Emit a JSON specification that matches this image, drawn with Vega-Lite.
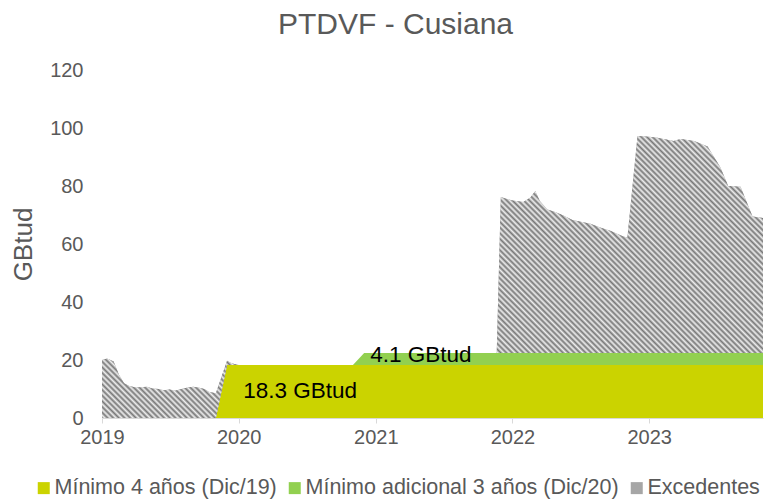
{
  "$schema": "https://vega.github.io/schema/vega-lite/v6.json",
  "width": 661,
  "height": 348,
  "autosize": {"type": "none"},
  "padding": {"left": 102, "top": 70, "right": 2, "bottom": 81},
  "background": "white",
  "title": {"text": "PTDVF - Cusiana", "fontSize": 30, "font": "Liberation Sans", "fontWeight": "normal", "color": "#595959", "anchor": "middle", "dx": -37, "offset": 20},
  "config": {"view": {"stroke": null}, "font": "Liberation Sans"},
  "data": {"values": [
    {"date": "2019-01-01", "a": 0, "b": 0, "c": 20},
    {"date": "2019-01-15", "a": 0, "b": 0, "c": 20.5},
    {"date": "2019-02-01", "a": 0, "b": 0, "c": 19.5},
    {"date": "2019-02-15", "a": 0, "b": 0, "c": 15},
    {"date": "2019-03-01", "a": 0, "b": 0, "c": 12},
    {"date": "2019-03-15", "a": 0, "b": 0, "c": 11},
    {"date": "2019-04-01", "a": 0, "b": 0, "c": 10.5},
    {"date": "2019-04-15", "a": 0, "b": 0, "c": 10.6},
    {"date": "2019-05-01", "a": 0, "b": 0, "c": 10.8},
    {"date": "2019-05-15", "a": 0, "b": 0, "c": 10.2},
    {"date": "2019-06-01", "a": 0, "b": 0, "c": 10},
    {"date": "2019-06-15", "a": 0, "b": 0, "c": 9.6},
    {"date": "2019-07-01", "a": 0, "b": 0, "c": 9.8},
    {"date": "2019-07-15", "a": 0, "b": 0, "c": 9.4},
    {"date": "2019-08-01", "a": 0, "b": 0, "c": 10},
    {"date": "2019-08-15", "a": 0, "b": 0, "c": 10.4},
    {"date": "2019-09-01", "a": 0, "b": 0, "c": 10.8},
    {"date": "2019-09-15", "a": 0, "b": 0, "c": 10.5},
    {"date": "2019-10-01", "a": 0, "b": 0, "c": 10},
    {"date": "2019-10-15", "a": 0, "b": 0, "c": 9},
    {"date": "2019-11-01", "a": 0, "b": 0, "c": 8.5},
    {"date": "2019-12-01", "a": 18.3, "b": 0, "c": 1.4},
    {"date": "2019-12-15", "a": 18.3, "b": 0, "c": 0.5},
    {"date": "2020-01-01", "a": 18.3, "b": 0, "c": 0},
    {"date": "2020-11-01", "a": 18.3, "b": 0, "c": 0},
    {"date": "2020-12-01", "a": 18.3, "b": 4.1, "c": 0},
    {"date": "2021-11-20", "a": 18.3, "b": 4.1, "c": 0},
    {"date": "2021-12-01", "a": 18.3, "b": 4.1, "c": 53.8},
    {"date": "2021-12-15", "a": 18.3, "b": 4.1, "c": 53.2},
    {"date": "2022-01-01", "a": 18.3, "b": 4.1, "c": 52.6},
    {"date": "2022-01-30", "a": 18.3, "b": 4.1, "c": 52.1},
    {"date": "2022-02-18", "a": 18.3, "b": 4.1, "c": 53.6},
    {"date": "2022-03-03", "a": 18.3, "b": 4.1, "c": 55.9},
    {"date": "2022-03-15", "a": 18.3, "b": 4.1, "c": 52.4},
    {"date": "2022-04-04", "a": 18.3, "b": 4.1, "c": 49.5},
    {"date": "2022-04-25", "a": 18.3, "b": 4.1, "c": 48.6},
    {"date": "2022-05-17", "a": 18.3, "b": 4.1, "c": 47.4},
    {"date": "2022-06-10", "a": 18.3, "b": 4.1, "c": 45.9},
    {"date": "2022-07-28", "a": 18.3, "b": 4.1, "c": 44.6},
    {"date": "2022-08-25", "a": 18.3, "b": 4.1, "c": 43.2},
    {"date": "2022-09-19", "a": 18.3, "b": 4.1, "c": 42.2},
    {"date": "2022-10-24", "a": 18.3, "b": 4.1, "c": 40.2},
    {"date": "2022-11-04", "a": 18.3, "b": 4.1, "c": 39.8},
    {"date": "2022-12-01", "a": 18.3, "b": 4.1, "c": 74.8},
    {"date": "2023-01-01", "a": 18.3, "b": 4.1, "c": 74.6},
    {"date": "2023-01-23", "a": 18.3, "b": 4.1, "c": 74.2},
    {"date": "2023-02-15", "a": 18.3, "b": 4.1, "c": 73.6},
    {"date": "2023-03-07", "a": 18.3, "b": 4.1, "c": 73.1},
    {"date": "2023-03-26", "a": 18.3, "b": 4.1, "c": 73.8},
    {"date": "2023-05-01", "a": 18.3, "b": 4.1, "c": 73.1},
    {"date": "2023-06-06", "a": 18.3, "b": 4.1, "c": 71.2},
    {"date": "2023-07-10", "a": 18.3, "b": 4.1, "c": 64.1},
    {"date": "2023-07-31", "a": 18.3, "b": 4.1, "c": 57.6},
    {"date": "2023-09-02", "a": 18.3, "b": 4.1, "c": 57.3},
    {"date": "2023-09-20", "a": 18.3, "b": 4.1, "c": 51.6},
    {"date": "2023-10-04", "a": 18.3, "b": 4.1, "c": 47.1},
    {"date": "2023-11-01", "a": 18.3, "b": 4.1, "c": 46.6}
  ]},
  "layer": [
    {
      "transform": [{"fold": ["a", "b", "c"], "as": ["k", "v"]}],
      "mark": {"type": "area", "interpolate": "linear"},
      "encoding": {
        "x": {
          "field": "date", "type": "temporal",
          "scale": {"type": "utc", "domain": [{"year": 2019, "month": 1, "date": 1, "utc": true}, {"year": 2023, "month": 11, "date": 1, "utc": true}]},
          "axis": {
            "title": null, "format": "%Y", "formatType": "utc",
            "values": [{"year": 2019, "utc": true}, {"year": 2020, "utc": true}, {"year": 2021, "utc": true}, {"year": 2022, "utc": true}, {"year": 2023, "utc": true}],
            "labelFontSize": 20, "labelColor": "#595959", "labelFont": "Liberation Sans",
            "domainColor": "#d9d9d9", "tickColor": "#d9d9d9", "tickSize": 5, "labelPadding": 4,
            "grid": false, "labelFlush": false, "labelOverlap": false
          }
        },
        "y": {
          "field": "v", "type": "quantitative", "stack": "zero",
          "scale": {"domain": [0, 120]},
          "axis": {
            "title": "GBtud", "titleFontSize": 26, "titleFontWeight": "normal", "titleColor": "#595959", "titleFont": "Liberation Sans",
            "titleX": -79, "titleY": 174, "titleAngle": 270, "titleAlign": "center", "titleBaseline": "middle",
            "labelFontSize": 20, "labelColor": "#595959", "labelPadding": 19,
            "domain": false, "ticks": false, "tickSize": 0, "grid": false,
            "values": [0, 20, 40, 60, 80, 100, 120]
          }
        },
        "color": {
          "field": "k", "type": "nominal",
          "scale": {"domain": ["a", "b", "c"], "range": ["#cbd300", "#92d050", "#a6a6a6"]},
          "legend": {
            "title": null, "orient": "none", "legendX": -69, "legendY": 407, "direction": "horizontal", "padding": 0,
            "symbolType": "square", "symbolSize": 144, "symbolStrokeWidth": 0,
            "labelFontSize": 21.5, "labelColor": "#595959", "labelFont": "Liberation Sans", "labelOffset": 0, "columnPadding": 7,
            "labelLimit": 400,
            "labelExpr": "({'a': 'Mínimo 4 años (Dic/19)', 'b': 'Mínimo adicional 3 años (Dic/20)', 'c': 'Excedentes'})[datum.label]"
          }
        },
        "order": {"field": "k"}
      }
    },
    {
      "transform": [
        {"fold": ["a", "b", "c"], "as": ["k", "v"]},
        {"stack": "v", "groupby": ["date"], "sort": [{"field": "k", "order": "ascending"}], "as": ["v0", "v1"]},
        {"filter": "datum.k === 'c'"}
      ],
      "mark": {"type": "area", "interpolate": "linear", "color": {"gradient": "linear", "x1": 0, "y1": 1, "x2": 1.207, "y2": 0.485, "stops": [
{"offset":0,"color":"#777"},{"offset":0.003,"color":"#eee"},{"offset":0.006,"color":"#777"},{"offset":0.009,"color":"#eee"},{"offset":0.012,"color":"#777"},{"offset":0.015,"color":"#eee"},{"offset":0.018,"color":"#777"},{"offset":0.021,"color":"#eee"},{"offset":0.024,"color":"#777"},{"offset":0.027,"color":"#eee"},
{"offset":0.03,"color":"#777"},{"offset":0.033,"color":"#eee"},{"offset":0.036,"color":"#777"},{"offset":0.039,"color":"#eee"},{"offset":0.042,"color":"#777"},{"offset":0.045,"color":"#eee"},{"offset":0.048,"color":"#777"},{"offset":0.051,"color":"#eee"},{"offset":0.054,"color":"#777"},{"offset":0.057,"color":"#eee"},
{"offset":0.06,"color":"#777"},{"offset":0.063,"color":"#eee"},{"offset":0.066,"color":"#777"},{"offset":0.069,"color":"#eee"},{"offset":0.072,"color":"#777"},{"offset":0.075,"color":"#eee"},{"offset":0.078,"color":"#777"},{"offset":0.081,"color":"#eee"},{"offset":0.084,"color":"#777"},{"offset":0.087,"color":"#eee"},
{"offset":0.09,"color":"#777"},{"offset":0.093,"color":"#eee"},{"offset":0.096,"color":"#777"},{"offset":0.099,"color":"#eee"},{"offset":0.102,"color":"#777"},{"offset":0.105,"color":"#eee"},{"offset":0.108,"color":"#777"},{"offset":0.111,"color":"#eee"},{"offset":0.114,"color":"#777"},{"offset":0.117,"color":"#eee"},
{"offset":0.12,"color":"#777"},{"offset":0.123,"color":"#eee"},{"offset":0.126,"color":"#777"},{"offset":0.129,"color":"#eee"},{"offset":0.132,"color":"#777"},{"offset":0.135,"color":"#eee"},{"offset":0.138,"color":"#777"},{"offset":0.141,"color":"#eee"},{"offset":0.144,"color":"#777"},{"offset":0.147,"color":"#eee"},
{"offset":0.15,"color":"#777"},{"offset":0.153,"color":"#eee"},{"offset":0.156,"color":"#777"},{"offset":0.159,"color":"#eee"},{"offset":0.162,"color":"#777"},{"offset":0.165,"color":"#eee"},{"offset":0.168,"color":"#777"},{"offset":0.171,"color":"#eee"},{"offset":0.174,"color":"#777"},{"offset":0.177,"color":"#eee"},
{"offset":0.18,"color":"#777"},{"offset":0.183,"color":"#eee"},{"offset":0.186,"color":"#777"},{"offset":0.189,"color":"#eee"},{"offset":0.192,"color":"#777"},{"offset":0.195,"color":"#eee"},{"offset":0.198,"color":"#777"},{"offset":0.201,"color":"#eee"},{"offset":0.204,"color":"#777"},{"offset":0.207,"color":"#eee"},
{"offset":0.21,"color":"#777"},{"offset":0.213,"color":"#eee"},{"offset":0.216,"color":"#777"},{"offset":0.219,"color":"#eee"},{"offset":0.222,"color":"#777"},{"offset":0.225,"color":"#eee"},{"offset":0.228,"color":"#777"},{"offset":0.231,"color":"#eee"},{"offset":0.234,"color":"#777"},{"offset":0.237,"color":"#eee"},
{"offset":0.24,"color":"#777"},{"offset":0.243,"color":"#eee"},{"offset":0.246,"color":"#777"},{"offset":0.249,"color":"#eee"},{"offset":0.252,"color":"#777"},{"offset":0.255,"color":"#eee"},{"offset":0.258,"color":"#777"},{"offset":0.261,"color":"#eee"},{"offset":0.264,"color":"#777"},{"offset":0.267,"color":"#eee"},
{"offset":0.27,"color":"#777"},{"offset":0.273,"color":"#eee"},{"offset":0.276,"color":"#777"},{"offset":0.279,"color":"#eee"},{"offset":0.282,"color":"#777"},{"offset":0.285,"color":"#eee"},{"offset":0.288,"color":"#777"},{"offset":0.291,"color":"#eee"},{"offset":0.294,"color":"#777"},{"offset":0.297,"color":"#eee"},
{"offset":0.3,"color":"#777"},{"offset":0.303,"color":"#eee"},{"offset":0.306,"color":"#777"},{"offset":0.309,"color":"#eee"},{"offset":0.312,"color":"#777"},{"offset":0.315,"color":"#eee"},{"offset":0.318,"color":"#777"},{"offset":0.321,"color":"#eee"},{"offset":0.324,"color":"#777"},{"offset":0.327,"color":"#eee"},
{"offset":0.33,"color":"#777"},{"offset":0.333,"color":"#eee"},{"offset":0.336,"color":"#777"},{"offset":0.339,"color":"#eee"},{"offset":0.342,"color":"#777"},{"offset":0.345,"color":"#eee"},{"offset":0.348,"color":"#777"},{"offset":0.351,"color":"#eee"},{"offset":0.354,"color":"#777"},{"offset":0.357,"color":"#eee"},
{"offset":0.36,"color":"#777"},{"offset":0.363,"color":"#eee"},{"offset":0.366,"color":"#777"},{"offset":0.369,"color":"#eee"},{"offset":0.372,"color":"#777"},{"offset":0.375,"color":"#eee"},{"offset":0.378,"color":"#777"},{"offset":0.381,"color":"#eee"},{"offset":0.384,"color":"#777"},{"offset":0.387,"color":"#eee"},
{"offset":0.39,"color":"#777"},{"offset":0.393,"color":"#eee"},{"offset":0.396,"color":"#777"},{"offset":0.399,"color":"#eee"},{"offset":0.402,"color":"#777"},{"offset":0.405,"color":"#eee"},{"offset":0.408,"color":"#777"},{"offset":0.411,"color":"#eee"},{"offset":0.414,"color":"#777"},{"offset":0.417,"color":"#eee"},
{"offset":0.42,"color":"#777"},{"offset":0.423,"color":"#eee"},{"offset":0.426,"color":"#777"},{"offset":0.429,"color":"#eee"},{"offset":0.432,"color":"#777"},{"offset":0.435,"color":"#eee"},{"offset":0.438,"color":"#777"},{"offset":0.441,"color":"#eee"},{"offset":0.444,"color":"#777"},{"offset":0.447,"color":"#eee"},
{"offset":0.45,"color":"#777"},{"offset":0.453,"color":"#eee"},{"offset":0.456,"color":"#777"},{"offset":0.459,"color":"#eee"},{"offset":0.462,"color":"#777"},{"offset":0.465,"color":"#eee"},{"offset":0.468,"color":"#777"},{"offset":0.471,"color":"#eee"},{"offset":0.474,"color":"#777"},{"offset":0.477,"color":"#eee"},
{"offset":0.48,"color":"#777"},{"offset":0.483,"color":"#eee"},{"offset":0.486,"color":"#777"},{"offset":0.489,"color":"#eee"},{"offset":0.492,"color":"#777"},{"offset":0.495,"color":"#eee"},{"offset":0.498,"color":"#777"},{"offset":0.501,"color":"#eee"},{"offset":0.504,"color":"#777"},{"offset":0.507,"color":"#eee"},
{"offset":0.51,"color":"#777"},{"offset":0.513,"color":"#eee"},{"offset":0.516,"color":"#777"},{"offset":0.519,"color":"#eee"},{"offset":0.522,"color":"#777"},{"offset":0.525,"color":"#eee"},{"offset":0.528,"color":"#777"},{"offset":0.531,"color":"#eee"},{"offset":0.534,"color":"#777"},{"offset":0.537,"color":"#eee"},
{"offset":0.54,"color":"#777"},{"offset":0.543,"color":"#eee"},{"offset":0.546,"color":"#777"},{"offset":0.549,"color":"#eee"},{"offset":0.552,"color":"#777"},{"offset":0.555,"color":"#eee"},{"offset":0.558,"color":"#777"},{"offset":0.561,"color":"#eee"},{"offset":0.564,"color":"#777"},{"offset":0.567,"color":"#eee"},
{"offset":0.57,"color":"#777"},{"offset":0.573,"color":"#eee"},{"offset":0.576,"color":"#777"},{"offset":0.579,"color":"#eee"},{"offset":0.582,"color":"#777"},{"offset":0.585,"color":"#eee"},{"offset":0.588,"color":"#777"},{"offset":0.591,"color":"#eee"},{"offset":0.594,"color":"#777"},{"offset":0.597,"color":"#eee"},
{"offset":0.6,"color":"#777"},{"offset":0.603,"color":"#eee"},{"offset":0.606,"color":"#777"},{"offset":0.609,"color":"#eee"},{"offset":0.612,"color":"#777"},{"offset":0.615,"color":"#eee"},{"offset":0.618,"color":"#777"},{"offset":0.621,"color":"#eee"},{"offset":0.624,"color":"#777"},{"offset":0.627,"color":"#eee"},
{"offset":0.63,"color":"#777"},{"offset":0.633,"color":"#eee"},{"offset":0.636,"color":"#777"},{"offset":0.639,"color":"#eee"},{"offset":0.642,"color":"#777"},{"offset":0.645,"color":"#eee"},{"offset":0.648,"color":"#777"},{"offset":0.651,"color":"#eee"},{"offset":0.654,"color":"#777"},{"offset":0.657,"color":"#eee"},
{"offset":0.66,"color":"#777"},{"offset":0.663,"color":"#eee"},{"offset":0.666,"color":"#777"},{"offset":0.669,"color":"#eee"},{"offset":0.672,"color":"#777"},{"offset":0.675,"color":"#eee"},{"offset":0.678,"color":"#777"},{"offset":0.681,"color":"#eee"},{"offset":0.684,"color":"#777"},{"offset":0.687,"color":"#eee"},
{"offset":0.69,"color":"#777"},{"offset":0.693,"color":"#eee"},{"offset":0.696,"color":"#777"},{"offset":0.699,"color":"#eee"},{"offset":0.702,"color":"#777"},{"offset":0.705,"color":"#eee"},{"offset":0.708,"color":"#777"},{"offset":0.711,"color":"#eee"},{"offset":0.714,"color":"#777"},{"offset":0.717,"color":"#eee"},
{"offset":0.72,"color":"#777"},{"offset":0.723,"color":"#eee"},{"offset":0.726,"color":"#777"},{"offset":0.729,"color":"#eee"},{"offset":0.732,"color":"#777"},{"offset":0.735,"color":"#eee"},{"offset":0.738,"color":"#777"},{"offset":0.741,"color":"#eee"},{"offset":0.744,"color":"#777"},{"offset":0.747,"color":"#eee"},
{"offset":0.75,"color":"#777"},{"offset":0.753,"color":"#eee"},{"offset":0.756,"color":"#777"},{"offset":0.759,"color":"#eee"},{"offset":0.762,"color":"#777"},{"offset":0.765,"color":"#eee"},{"offset":0.768,"color":"#777"},{"offset":0.771,"color":"#eee"},{"offset":0.774,"color":"#777"},{"offset":0.777,"color":"#eee"},
{"offset":0.78,"color":"#777"},{"offset":0.783,"color":"#eee"},{"offset":0.786,"color":"#777"},{"offset":0.789,"color":"#eee"},{"offset":0.792,"color":"#777"},{"offset":0.795,"color":"#eee"},{"offset":0.798,"color":"#777"},{"offset":0.801,"color":"#eee"},{"offset":0.804,"color":"#777"},{"offset":0.807,"color":"#eee"},
{"offset":0.81,"color":"#777"},{"offset":0.813,"color":"#eee"},{"offset":0.816,"color":"#777"},{"offset":0.819,"color":"#eee"},{"offset":0.822,"color":"#777"},{"offset":0.825,"color":"#eee"},{"offset":0.828,"color":"#777"},{"offset":0.831,"color":"#eee"},{"offset":0.834,"color":"#777"},{"offset":0.837,"color":"#eee"},
{"offset":0.84,"color":"#777"},{"offset":0.843,"color":"#eee"},{"offset":0.846,"color":"#777"},{"offset":0.849,"color":"#eee"},{"offset":0.852,"color":"#777"},{"offset":0.855,"color":"#eee"},{"offset":0.858,"color":"#777"},{"offset":0.861,"color":"#eee"},{"offset":0.864,"color":"#777"},{"offset":0.867,"color":"#eee"},
{"offset":0.87,"color":"#777"},{"offset":0.873,"color":"#eee"},{"offset":0.876,"color":"#777"},{"offset":0.879,"color":"#eee"},{"offset":0.882,"color":"#777"},{"offset":0.885,"color":"#eee"},{"offset":0.888,"color":"#777"},{"offset":0.891,"color":"#eee"},{"offset":0.894,"color":"#777"},{"offset":0.897,"color":"#eee"},
{"offset":0.9,"color":"#777"},{"offset":0.903,"color":"#eee"},{"offset":0.906,"color":"#777"},{"offset":0.909,"color":"#eee"},{"offset":0.912,"color":"#777"},{"offset":0.915,"color":"#eee"},{"offset":0.918,"color":"#777"},{"offset":0.921,"color":"#eee"},{"offset":0.924,"color":"#777"},{"offset":0.927,"color":"#eee"},
{"offset":0.93,"color":"#777"},{"offset":0.933,"color":"#eee"},{"offset":0.936,"color":"#777"},{"offset":0.939,"color":"#eee"},{"offset":0.942,"color":"#777"},{"offset":0.945,"color":"#eee"},{"offset":0.948,"color":"#777"},{"offset":0.951,"color":"#eee"},{"offset":0.954,"color":"#777"},{"offset":0.957,"color":"#eee"},
{"offset":0.96,"color":"#777"},{"offset":0.963,"color":"#eee"},{"offset":0.966,"color":"#777"},{"offset":0.969,"color":"#eee"},{"offset":0.972,"color":"#777"},{"offset":0.975,"color":"#eee"},{"offset":0.978,"color":"#777"},{"offset":0.981,"color":"#eee"},{"offset":0.984,"color":"#777"},{"offset":0.987,"color":"#eee"},
{"offset":0.99,"color":"#777"},{"offset":0.993,"color":"#eee"},{"offset":0.996,"color":"#777"},{"offset":0.999,"color":"#eee"}
      ]}},
      "encoding": {
        "x": {"field": "date", "type": "temporal"},
        "y": {"field": "v1", "type": "quantitative"},
        "y2": {"field": "v0"}
      }
    },
    {
      "data": {"values": [
        {"date": "2020-01-13", "v": 9.3, "t": "18.3 GBtud"},
        {"date": "2020-12-17", "v": 21.7, "t": "4.1 GBtud"}
      ]},
      "mark": {"type": "text", "align": "left", "baseline": "middle", "fontSize": 22.5, "color": "#000000", "font": "Liberation Sans"},
      "encoding": {
        "x": {"field": "date", "type": "temporal"},
        "y": {"field": "v", "type": "quantitative"},
        "text": {"field": "t"}
      }
    }
  ]
}
